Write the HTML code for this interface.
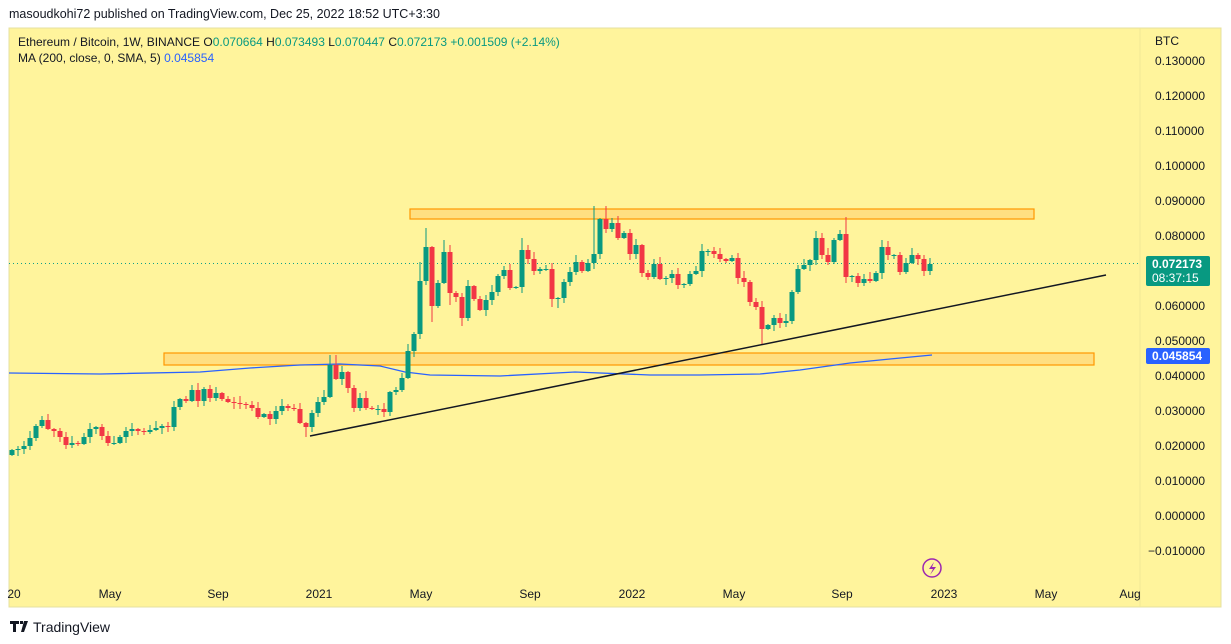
<!DOCTYPE html>
<html><head><meta charset="utf-8"><style>
html,body{margin:0;padding:0;background:#fff;width:1231px;height:644px;overflow:hidden;font-family:"Liberation Sans",sans-serif;}
svg{position:absolute;left:0;top:0}
</style></head><body>
<svg id="s" width="1231" height="644" xmlns="http://www.w3.org/2000/svg" font-family="Liberation Sans, sans-serif">
<rect x="0" y="0" width="1231" height="644" fill="#fff"/>
<text x="9" y="18" font-size="12.5" fill="#131722">masoudkohi72 published on TradingView.com, Dec 25, 2022 18:52 UTC+3:30</text>
<rect x="9" y="28" width="1212" height="579" fill="#fff49c" stroke="#e6e0a0" stroke-width="1"/>
<line x1="1140" y1="28" x2="1140" y2="607" stroke="#f0e896" stroke-width="1"/>
<g id="zones">
<rect x="410" y="209" width="624" height="10" fill="#ffd97a" fill-opacity="0.8" stroke="#ff9800" stroke-width="1.2"/>
<rect x="164" y="353" width="930" height="12" fill="#ffd97a" fill-opacity="0.8" stroke="#ff9800" stroke-width="1.2"/>
</g>
<line x1="9" y1="263.5" x2="1140" y2="263.5" stroke="#0ea08a" stroke-width="1" stroke-dasharray="1,3" shape-rendering="crispEdges"/>
<polyline fill="none" stroke="#2962ff" stroke-width="1.3" points="9,373 100,374 200,372 250,368 300,365 340,364 380,366 405,372 430,375 500,376 575,372 650,375 700,375 760,374 800,370 850,363 890,359 932,355"/>
<g id="candles"></g>
<line x1="310" y1="436" x2="1106" y2="275" stroke="#131722" stroke-width="1.5"/>
<g font-size="12" fill="#131722" id="axis">
<text x="1155" y="45">BTC</text>
</g>
<rect x="1146" y="256" width="64" height="30" rx="2" fill="#089981"/>
<text x="1152" y="268" font-size="12" fill="#fff" font-weight="bold">0.072173</text>
<text x="1152" y="282" font-size="12" fill="#fff">08:37:15</text>
<rect x="1146" y="348" width="64" height="16" rx="2" fill="#2962ff"/>
<text x="1152" y="360" font-size="12" fill="#fff" font-weight="bold">0.045854</text>
<g font-size="12" fill="#131722" text-anchor="middle">
<text x="14" y="598">20</text><text x="110" y="598">May</text><text x="218" y="598">Sep</text>
<text x="319" y="598">2021</text><text x="421" y="598">May</text><text x="530" y="598">Sep</text>
<text x="632" y="598">2022</text><text x="734" y="598">May</text><text x="842" y="598">Sep</text>
<text x="944" y="598">2023</text><text x="1046" y="598">May</text><text x="1130" y="598">Aug</text>
</g>
<circle cx="932" cy="568" r="9" fill="none" stroke="#9c27b0" stroke-width="1.5"/>
<path d="M934 562 L929 569 L933 569 L930 575 L936 567 L932 567 Z" fill="#9c27b0"/>
<text x="18" y="46" font-size="12" fill="#131722">Ethereum / Bitcoin, 1W, BINANCE <tspan fill="#131722">O</tspan><tspan fill="#089981">0.070664</tspan> <tspan fill="#131722">H</tspan><tspan fill="#089981">0.073493</tspan> <tspan fill="#131722">L</tspan><tspan fill="#089981">0.070447</tspan> <tspan fill="#131722">C</tspan><tspan fill="#089981">0.072173 +0.001509 (+2.14%)</tspan></text>
<text x="18" y="62" font-size="12" fill="#131722">MA (200, close, 0, SMA, 5) <tspan fill="#2962ff">0.045854</tspan></text>
<g transform="translate(10,621)"><path d="M0 0h9v3h-3v8h-3v-8h-3z M10 0h3v3h-3z M14 0h4l-4 11h-3z" fill="#131722"/></g>
<text x="33" y="632" font-size="14" fill="#131722">TradingView</text>
</svg>
<script>
var NS="http://www.w3.org/2000/svg",s=document.getElementById('s');
function el(t,a,p){var e=document.createElementNS(NS,t);for(var k in a)e.setAttribute(k,a[k]);(p||s).appendChild(e);return e;}
var ax=document.getElementById('axis');
var labs=["0.130000","0.120000","0.110000","0.100000","0.090000","0.080000","0.070000","0.060000","0.050000","0.040000","0.030000","0.020000","0.010000","0.000000","\u22120.010000"];
for(var i=0;i<labs.length;i++){var y=61+35*i;if(y>250&&y<290)continue;var t=el('text',{x:labs[i].charAt(0)=='\u2212'?1148:1155,y:y+4},ax);t.textContent=labs[i];}
var C=[450,449,446,438,426,420,429,431,437,445,443,444,437,429,427,436,443,443,437,431,429,431,432,430,428,426,427,407,399,401,390,401,389,398,393,399,402,403,404,405,408,417,414,419,411,406,408,409,423,427,413,402,397,365,379,372,388,408,398,408,409,409,412,392,390,378,351,334,281,247,306,283,252,293,297,318,286,299,310,300,292,276,270,288,287,250,259,271,269,269,299,298,282,272,262,271,263,254,219,229,223,238,233,254,245,273,277,264,279,278,274,285,284,274,271,251,251,254,259,261,258,278,282,302,307,329,325,318,323,321,292,269,265,260,238,255,262,240,234,277,276,283,279,281,273,247,255,255,272,263,255,259,271,264];
var hi={53:355,54:355,68:262,69:228,97:206,99:206,72:240,85:238,139:217,134:231,145:240};
var lo={49:437,70:322,75:326,125:345,90:307,91:308,73:305,53:398};
var cg=document.getElementById('candles');var prev=455;
for(var k=0;k<C.length;k++){var o=prev,c=C[k];var x=12+6*k;var up=c<=o;var col=up?"#089981":"#f23645";
var r=((k*37)%7);var h=hi[k]!==undefined?hi[k]:Math.min(o,c)-1-r;var l=lo[k]!==undefined?lo[k]:Math.max(o,c)+1+((k*53)%6);
el('line',{x1:x,y1:h,x2:x,y2:l,stroke:col,'stroke-width':1},cg);
var t=Math.min(o,c),b=Math.max(o,c);if(b-t<1)b=t+1;
el('rect',{x:x-2.5,y:t,width:5,height:b-t,fill:col},cg);prev=c;}
</script>
</body></html>
